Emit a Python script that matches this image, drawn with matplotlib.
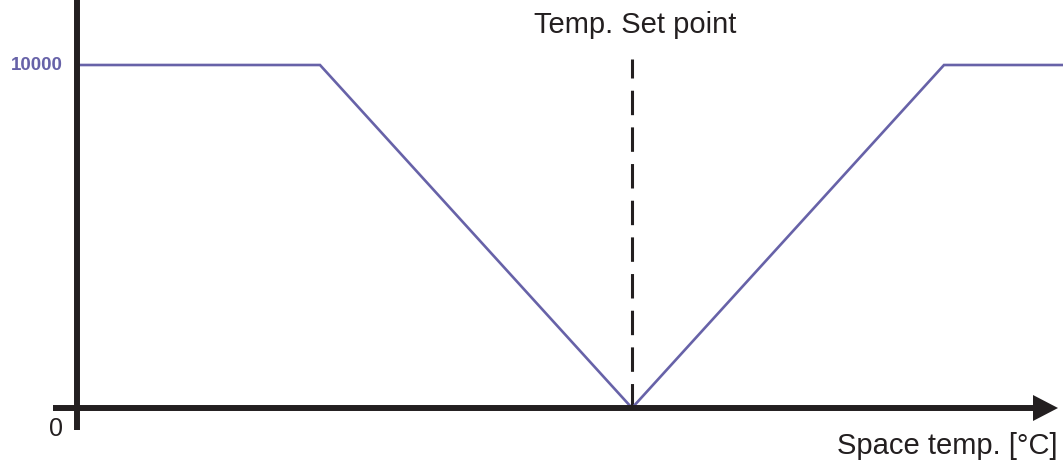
import matplotlib
matplotlib.use("Agg")
import matplotlib.pyplot as plt
from matplotlib.patches import Polygon

plt.rcParams['font.family'] = ['Liberation Sans', 'DejaVu Sans']

# ---- data (x: offset from set point, one unit = ramp width) ----
x_pts = [-1.779, -1.0, 0.0, 1.0, 1.40]
y_pts = [10000, 10000, 0, 10000, 10000]
y_ticks = [0, 10000]
set_point = 0.0

line_col = '#6762a8'
ink = '#231f20'

# pixel -> data helpers (layout only)
px_x = 312.0            # pixels per x unit
px_y = 343.0 / 10000    # pixels per y unit
x0_px, y0_px = 632, 408

def dx(p):
    return (p - x0_px) / px_x

def dy(p):
    return (y0_px - p) / px_y

fig = plt.figure(figsize=(10.63, 4.66), dpi=100)
ax = fig.add_axes([0, 0, 1, 1])
ax.set_xlim(dx(0), dx(1063))
ax.set_ylim(dy(466), dy(0))
ax.axis('off')

# curve
ax.plot(x_pts, y_pts, color=line_col, lw=1.9, solid_joinstyle='miter', zorder=3)

# set point dashed line
ax.plot([set_point, set_point], [0, dy(59)], color=ink, lw=2.2,
        dashes=(8, 4), zorder=2)

# axes
ax.plot([dx(77), dx(77)], [dy(0), dy(430)], color=ink, lw=4.3,
        solid_capstyle='butt', zorder=4)
ax.plot([dx(53), dx(1036)], [0, 0], color=ink, lw=4.3,
        solid_capstyle='butt', zorder=4)
ax.add_patch(Polygon([(dx(1033), dy(395)), (dx(1058), 0), (dx(1033), dy(421))],
                     closed=True, color=ink, lw=0, zorder=4))

# labels
ax.text(dx(63), y_ticks[1], f"{y_ticks[1]}", color=line_col, fontsize=13.5,
        ha='right', va='center', fontweight='bold')
ax.text(dx(63), dy(429), f"{y_ticks[0]}", color=ink, fontsize=18,
        ha='right', va='center')
ax.text(dx(1058), dy(454), "Space temp. [°C]", color=ink, fontsize=21,
        ha='right', va='baseline')
ax.text(dx(635), dy(33), "Temp. Set point", color=ink, fontsize=21,
        ha='center', va='baseline')

fig.savefig("out.png", dpi=100)
